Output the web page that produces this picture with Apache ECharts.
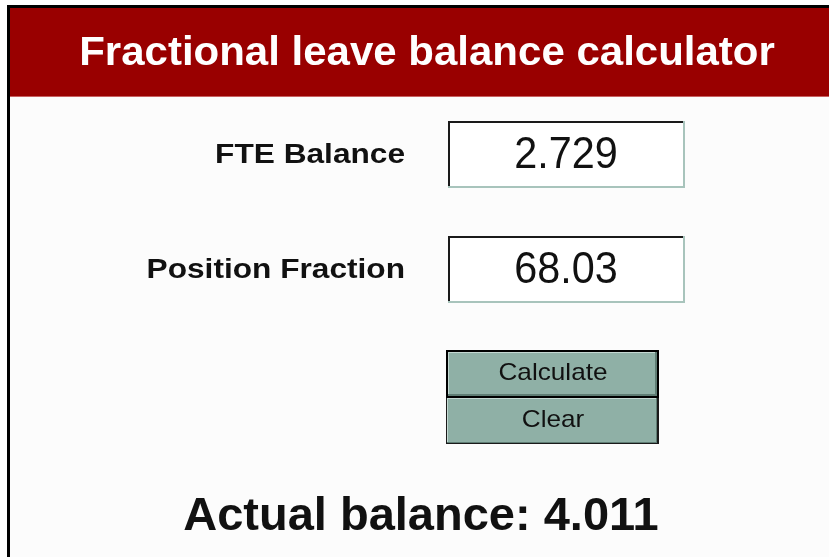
<!DOCTYPE html>
<html>
<head>
<meta charset="utf-8">
<script src="https://cdn.jsdelivr.net/npm/echarts@6/dist/echarts.min.js"></script>
<style>
  html, body { margin: 0; padding: 0; background: #ffffff; }
  #main { width: 829px; height: 557px; }
</style>
</head>
<body>
<div id="main"></div>
<script>
var title = "Fractional leave balance calculator";
var fieldLabels = ["FTE Balance", "Position Fraction"];
var fieldValues = ["2.729", "68.03"];
var buttonLabels = ["Calculate", "Clear"];
var resultLabel = "Actual balance: ";
var resultValue = "4.011";

var chartDom = document.getElementById("main");
var myChart = echarts.init(chartDom);
var option;

var font = "Liberation Sans, Arial, sans-serif";
var elements = [];

function label(text, x, y, size, bold, align, sx, sy, color) {
  return {
    type: "text", x: x, y: y, scaleX: sx || 1, scaleY: sy || 1,
    style: {
      text: text, fill: color || "#111111",
      font: (bold ? "bold " : "") + size + "px " + font,
      textAlign: align, textVerticalAlign: "middle"
    }
  };
}

// page background + frame
elements.push({ type: "rect", shape: { x: 0, y: 0, width: 829, height: 557 }, style: { fill: "#ffffff" } });
elements.push({ type: "rect", shape: { x: 10, y: 8, width: 819, height: 549 }, style: { fill: "#fcfcfc" } });
elements.push({ type: "rect", shape: { x: 7, y: 5, width: 822, height: 3 }, style: { fill: "#000000" } });
elements.push({ type: "rect", shape: { x: 7, y: 5, width: 3, height: 552 }, style: { fill: "#000000" } });

// header
elements.push({ type: "rect", shape: { x: 10, y: 8, width: 819, height: 88 }, style: { fill: "#990000" } });
elements.push({ type: "rect", shape: { x: 10, y: 96, width: 819, height: 1 }, style: { fill: "#c86060" } });
elements.push(label(title, 427, 54, 40, true, "center", 1.05, 1, "#ffffff"));

// input rows
var rowTop = [121, 236];
fieldLabels.forEach(function (text, i) {
  var y = rowTop[i];
  elements.push(label(text, 405, y + 34, 28, true, "right", 1.13, 1));
  elements.push({ type: "rect", shape: { x: 448, y: y, width: 237, height: 67 }, style: { fill: "#a8c4bc" } });
  elements.push({ type: "rect", shape: { x: 448, y: y, width: 235, height: 65 }, style: { fill: "#1a1a1a" } });
  elements.push({ type: "rect", shape: { x: 450, y: y + 2, width: 233, height: 63 }, style: { fill: "#ffffff" } });
  elements.push(label(fieldValues[i], 566, y + 35, 44, false, "center", 0.94, 1));
});

// buttons
var btnTop = [350, 398];
var btnH = [47, 46];
buttonLabels.forEach(function (text, i) {
  var y = btnTop[i];
  if (i === 0) {
    elements.push({ type: "rect", shape: { x: 446, y: y, width: 213, height: btnH[i] + 1 }, style: { fill: "#000000" } });
    elements.push({ type: "rect", shape: { x: 448, y: y + 2, width: 209, height: btnH[i] - 3 }, style: { fill: "#5f7d74" } });
    elements.push({ type: "rect", shape: { x: 448, y: y + 2, width: 207, height: btnH[i] - 5 }, style: { fill: "#c4d8d2" } });
    elements.push({ type: "rect", shape: { x: 449, y: y + 3, width: 206, height: btnH[i] - 6 }, style: { fill: "#8fb0a6" } });
  } else {
    elements.push({ type: "rect", shape: { x: 446, y: y, width: 213, height: btnH[i] }, style: { fill: "#1a1a1a" } });
    elements.push({ type: "rect", shape: { x: 447, y: y, width: 210, height: btnH[i] - 1 }, style: { fill: "#5f7d74" } });
    elements.push({ type: "rect", shape: { x: 447, y: y, width: 209, height: btnH[i] - 2 }, style: { fill: "#c4d8d2" } });
    elements.push({ type: "rect", shape: { x: 448, y: y + 1, width: 208, height: btnH[i] - 3 }, style: { fill: "#8fb0a6" } });
  }
  elements.push(label(text, 553, i === 0 ? 373 : 420, 24, false, "center", 1.09, 1));
});

// result
elements.push(label(resultLabel + resultValue, 421, 517, 47, true, "center", 1, 1));

option = {
  animation: false,
  graphic: { elements: elements }
};

option && myChart.setOption(option);
</script>
</body>
</html>
